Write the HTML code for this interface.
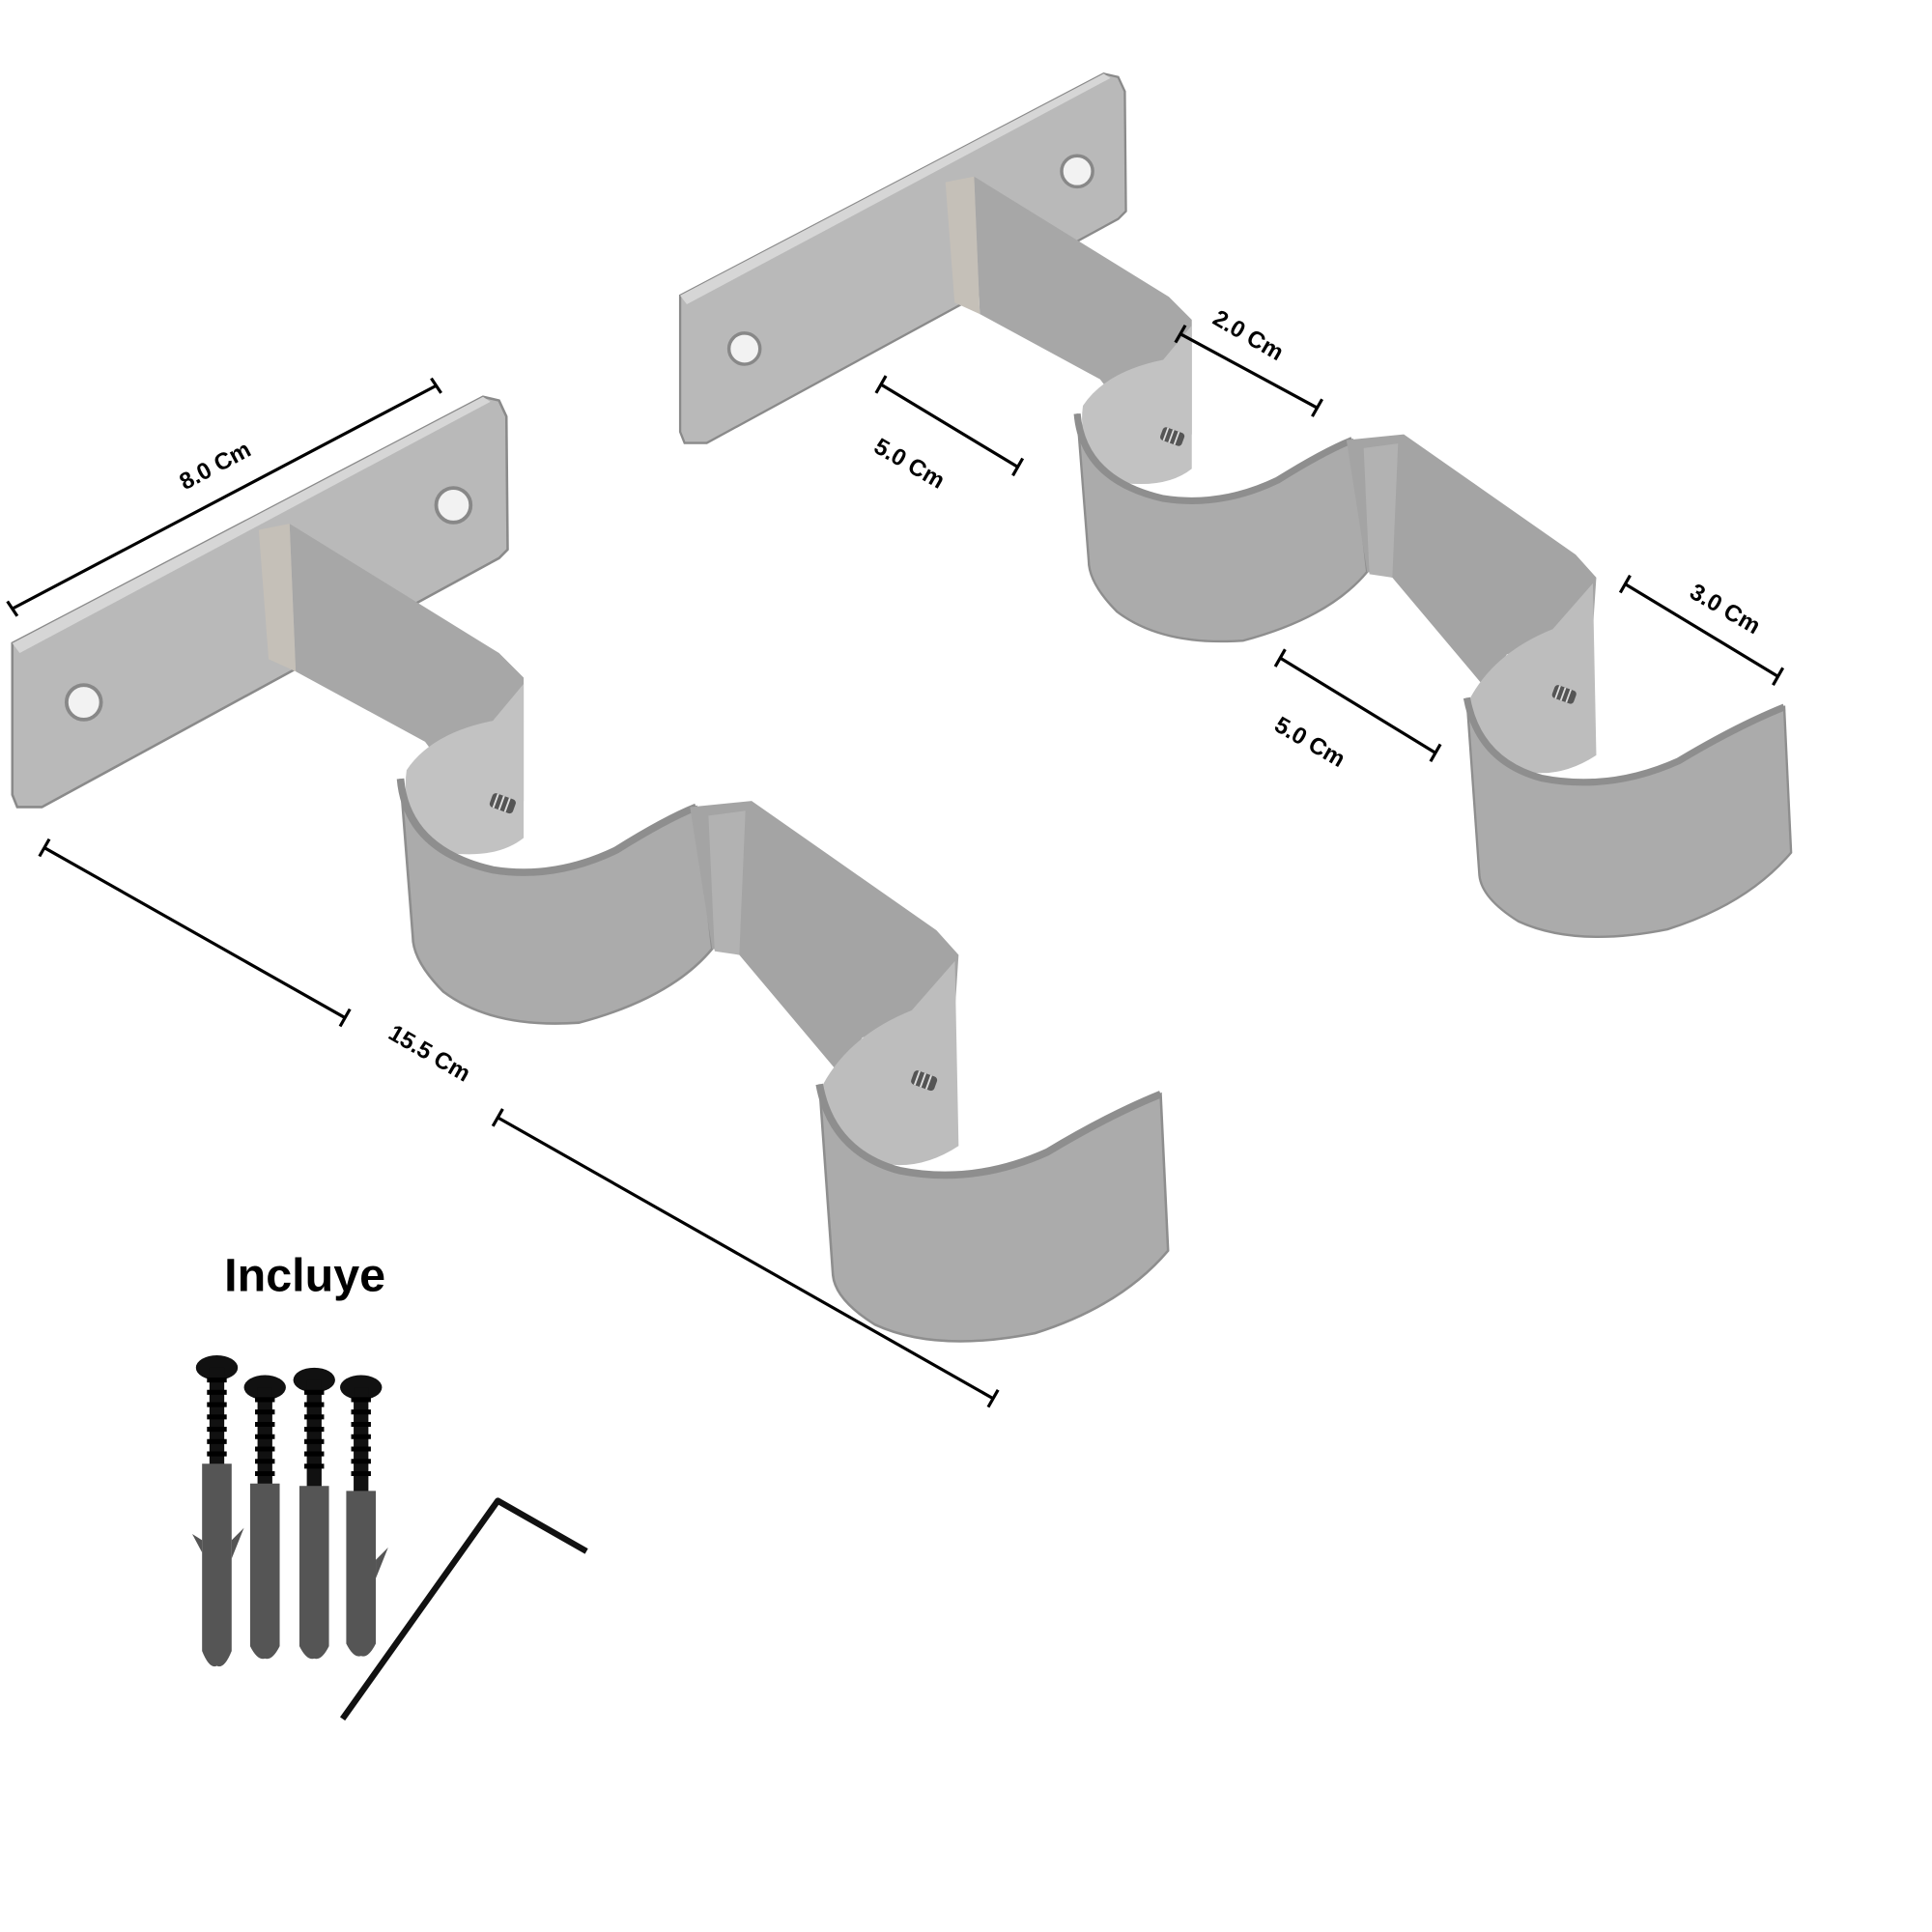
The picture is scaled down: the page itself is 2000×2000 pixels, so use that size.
<!DOCTYPE html>
<html><head><meta charset="utf-8"><style>
html,body{margin:0;padding:0;background:#fff;width:2000px;height:2000px;overflow:hidden}
svg{display:block}
text{font-family:"Liberation Sans",sans-serif;font-weight:bold;fill:#000}
</style></head><body>
<svg width="2000" height="2000" viewBox="0 0 1568 1568" xmlns="http://www.w3.org/2000/svg">
<defs>
<g id="screw">
  <rect x="-6" y="-10" width="12" height="20" rx="3" fill="#555"/>
  <path d="M-6,-6 H6 M-6,-1 H6 M-6,4 H6" stroke="#ddd" stroke-width="1.5"/>
</g>
<g id="plate">
  <polygon points="10,522 392,322 405,325 411,338 412,446 405,453 34,655 14,655 10,645" fill="#b9b9b9" stroke="#8a8a8a" stroke-width="2"/>
  <polygon points="10,522 392,322 398,326 16,530" fill="#d6d6d6"/>
  <circle cx="68" cy="570" r="14" fill="#f2f2f2" stroke="#888" stroke-width="3"/>
  <circle cx="368" cy="410" r="14" fill="#f2f2f2" stroke="#888" stroke-width="3"/>
</g>
<g id="body">
  <polygon points="235,425 405,530 425,550 425,650 390,662 345,602 240,545" fill="#a7a7a7"/>
  <polygon points="210,430 235,425 240,545 218,535" fill="#c5c0b8"/>
  <path d="M425,555 L425,680 Q400,700 350,690 Q325,660 330,625 Q350,595 400,585 Z" fill="#c2c2c2"/>
  <path d="M325,632 Q330,690 400,706 Q450,714 500,690 Q540,665 565,655 L578,770 Q545,810 470,830 Q400,835 360,805 Q335,780 335,760 Z" fill="#ababab" stroke="#8e8e8e" stroke-width="2"/>
  <path d="M325,632 Q330,690 400,706 Q450,714 500,690 Q540,665 565,655" fill="none" stroke="#8e8e8e" stroke-width="6"/>
  <polygon points="560,655 610,650 760,755 778,775 775,820 700,842 680,870 600,775 578,770" fill="#a4a4a4"/>
  <polygon points="575,662 605,658 600,775 580,772" fill="#b2b2b2"/>
  <path d="M775,780 L778,930 Q740,955 700,940 Q670,910 668,880 Q690,840 740,820 Z" fill="#bdbdbd"/>
  <path d="M665,880 Q675,935 730,950 Q790,962 850,935 Q900,905 942,888 L948,1015 Q910,1060 840,1082 Q760,1098 710,1075 Q678,1055 676,1035 Z" fill="#ababab" stroke="#8e8e8e" stroke-width="2"/>
  <path d="M665,880 Q675,935 730,950 Q790,962 850,935 Q900,905 942,888" fill="none" stroke="#8e8e8e" stroke-width="6"/>
  <use href="#screw" transform="translate(408,652) rotate(-70)"/>
  <use href="#screw" transform="translate(750,877) rotate(-70)"/>
</g>
</defs>

<use href="#plate"/>
<use href="#body"/>

<g transform="translate(543,-230) scale(0.9)"><use href="#plate"/></g>
<g transform="translate(572,-252) scale(0.93)"><use href="#body"/></g>

<g stroke="#000" stroke-width="2.5" fill="none">
  <line x1="10" y1="494" x2="354" y2="313"/><line x1="6" y1="488" x2="14" y2="500"/><line x1="350" y1="307" x2="358" y2="319"/>
  <line x1="36" y1="688" x2="280" y2="826"/><line x1="40" y1="681" x2="32" y2="695"/><line x1="284" y1="819" x2="276" y2="833"/>
  <line x1="404" y1="907" x2="806" y2="1135"/><line x1="408" y1="900" x2="400" y2="914"/><line x1="810" y1="1128" x2="802" y2="1142"/>
  <line x1="715" y1="312" x2="826" y2="379"/><line x1="719" y1="305" x2="711" y2="319"/><line x1="830" y1="372" x2="822" y2="386"/>
  <line x1="958" y1="271" x2="1069" y2="331"/><line x1="962" y1="264" x2="954" y2="278"/><line x1="1073" y1="324" x2="1065" y2="338"/>
  <line x1="1039" y1="534" x2="1165" y2="611"/><line x1="1043" y1="527" x2="1035" y2="541"/><line x1="1169" y1="604" x2="1161" y2="618"/>
  <line x1="1319" y1="474" x2="1443" y2="549"/><line x1="1323" y1="467" x2="1315" y2="481"/><line x1="1447" y1="542" x2="1439" y2="556"/>
</g>
<g font-size="19">
  <text transform="translate(150,398) rotate(-28)">8.0 Cm</text>
  <text transform="translate(314,842) rotate(30)">15.5 Cm</text>
  <text transform="translate(708,366) rotate(30)">5.0 Cm</text>
  <text transform="translate(983,262) rotate(30)">2.0 Cm</text>
  <text transform="translate(1033,592) rotate(30)">5.0 Cm</text>
  <text transform="translate(1370,484) rotate(30)">3.0 Cm</text>
</g>
<text x="182" y="1048" font-size="38">Incluye</text>

<g>
  <g transform="translate(176,1100)">
    <ellipse cx="0" cy="10" rx="17" ry="10" fill="#111"/><rect x="-6" y="10" width="12" height="80" fill="#111"/>
    <path d="M-8,20 H8 M-8,30 H8 M-8,40 H8 M-8,50 H8 M-8,60 H8 M-8,70 H8 M-8,80 H8" stroke="#000" stroke-width="4"/>
    <path d="M-12,88 H12 V240 Q6,255 0,252 Q-6,255 -12,240 Z" fill="#555"/>
    <path d="M-12,150 L-20,145 L-12,160 Z M12,150 L22,140 L12,165 Z" fill="#555"/>
  </g>
  <g transform="translate(215,1116)">
    <ellipse cx="0" cy="10" rx="17" ry="10" fill="#111"/><rect x="-6" y="10" width="12" height="82" fill="#111"/>
    <path d="M-8,20 H8 M-8,30 H8 M-8,40 H8 M-8,50 H8 M-8,60 H8 M-8,70 H8 M-8,80 H8" stroke="#000" stroke-width="4"/>
    <path d="M-12,88 H12 V220 Q6,232 0,230 Q-6,232 -12,220 Z" fill="#555"/>
  </g>
  <g transform="translate(255,1110)">
    <ellipse cx="0" cy="10" rx="17" ry="10" fill="#111"/><rect x="-6" y="10" width="12" height="90" fill="#111"/>
    <path d="M-8,20 H8 M-8,30 H8 M-8,40 H8 M-8,50 H8 M-8,60 H8 M-8,70 H8 M-8,80 H8" stroke="#000" stroke-width="4"/>
    <path d="M-12,96 H12 V226 Q6,238 0,236 Q-6,238 -12,226 Z" fill="#555"/>
  </g>
  <g transform="translate(293,1116)">
    <ellipse cx="0" cy="10" rx="17" ry="10" fill="#111"/><rect x="-6" y="10" width="12" height="88" fill="#111"/>
    <path d="M-8,20 H8 M-8,30 H8 M-8,40 H8 M-8,50 H8 M-8,60 H8 M-8,70 H8 M-8,80 H8" stroke="#000" stroke-width="4"/>
    <path d="M-12,94 H12 V218 Q6,230 0,228 Q-6,230 -12,218 Z" fill="#555"/>
    <path d="M12,150 L22,140 L12,165 Z" fill="#555"/>
  </g>
</g>
<polyline points="278,1395 404,1218 476,1259" fill="none" stroke="#111" stroke-width="5" stroke-linejoin="round"/>
</svg>
</body></html>
